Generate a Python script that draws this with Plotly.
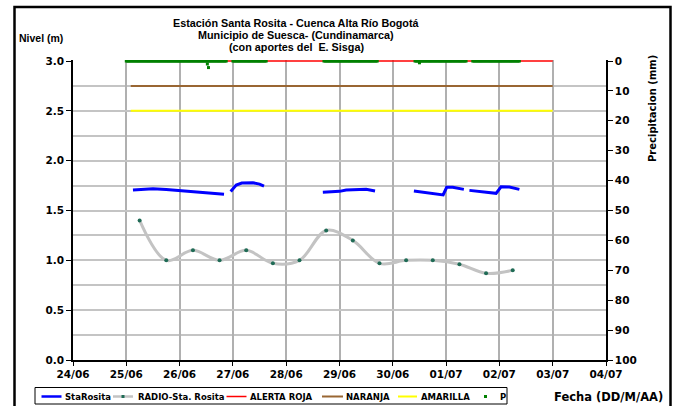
import pandas as pd
import plotly.graph_objects as go

# ---------------- data ----------------
sta_time = [
    "2011-06-25 03:00", "2011-06-25 12:00", "2011-06-25 18:00", "2011-06-26 00:00",
    "2011-06-26 06:00", "2011-06-26 12:00", "2011-06-26 16:30", "2011-06-26 20:00",
    None,
    "2011-06-26 23:00", "2011-06-27 01:30", "2011-06-27 04:00", "2011-06-27 09:00",
    "2011-06-27 12:00", "2011-06-27 14:00",
    None,
    "2011-06-28 16:30", "2011-06-29 00:00", "2011-06-29 03:00", "2011-06-29 12:00",
    "2011-06-29 16:00",
    None,
    "2011-06-30 09:30", "2011-06-30 15:00", "2011-06-30 22:40", "2011-07-01 00:15",
    "2011-07-01 03:00", "2011-07-01 08:00",
    None,
    "2011-07-01 10:30", "2011-07-01 16:30", "2011-07-01 22:30", "2011-07-02 00:45",
    "2011-07-02 04:30", "2011-07-02 09:00",
]
sta_level = [
    1.706, 1.718, 1.710, 1.700, 1.690, 1.680, 1.670, 1.662,
    None,
    1.690, 1.755, 1.775, 1.778, 1.765, 1.745,
    None,
    1.682, 1.692, 1.705, 1.712, 1.695,
    None,
    1.696, 1.680, 1.656, 1.733, 1.733, 1.712,
    None,
    1.702, 1.689, 1.672, 1.738, 1.736, 1.712,
]

radio_time = [
    "2011-06-25 06:00", "2011-06-25 18:00", "2011-06-26 06:00", "2011-06-26 18:00",
    "2011-06-27 06:00", "2011-06-27 18:00", "2011-06-28 06:00", "2011-06-28 18:00",
    "2011-06-29 06:00", "2011-06-29 18:00", "2011-06-30 06:00", "2011-06-30 18:00",
    "2011-07-01 06:00", "2011-07-01 18:00", "2011-07-02 06:00",
]
radio_level = [1.40, 1.00, 1.10, 1.00, 1.10, 0.97, 1.00, 1.30,
               1.20, 0.97, 1.00, 1.00, 0.96, 0.87, 0.90]

alert_time = ["2011-06-25 02:00", "2011-07-03 00:00"]
roja_level = [3.0, 3.0]
naranja_level = [2.75, 2.75]
amarilla_level = [2.5, 2.5]

# precipitation: readings of 0 mm inside these recording periods
p_seg_start = ["2011-06-25 00:00", "2011-06-27 00:00", "2011-06-28 17:00",
               "2011-06-30 10:00", "2011-07-01 12:00"]
p_seg_end = ["2011-06-26 21:00", "2011-06-27 15:00", "2011-06-29 17:00",
             "2011-07-01 09:00", "2011-07-02 09:00"]
p_event_time = ["2011-06-26 12:30", "2011-06-26 13:00", "2011-06-30 12:00"]
p_event_mm = [1.0, 2.2, 0.6]

x_range = ["2011-06-24", "2011-07-04"]
y_range = [0, 3.01]
y_ticks = [0.0, 0.5, 1.0, 1.5, 2.0, 2.5, 3.0]
p_ticks = [0, 10, 20, 30, 40, 50, 60, 70, 80, 90, 100]

# ---------------- build precipitation series ----------------
p_time, p_mm = [], []
for s, e in zip(p_seg_start, p_seg_end):
    for t in pd.date_range(s, e, freq="30min"):
        p_time.append(t)
        p_mm.append(0.0)
for t, v in zip(p_event_time, p_event_mm):
    p_time.append(pd.Timestamp(t))
    p_mm.append(v)

# ---------------- figure ----------------
W, H = 679, 406
L, R, T, B = 73, 73, 60, 46
PW, PH = W - L - R, H - T - B


def px(x):
    return (x - L) / PW


def py(y):
    return (H - B - y) / PH


BOLD = dict(family="DejaVu Sans", size=10.5, color="black", weight="bold")

fig = go.Figure()
fig.add_trace(go.Scatter(x=sta_time, y=sta_level, name="StaRosita", mode="lines",
                         line=dict(color="#0000ff", width=3), connectgaps=False))
fig.add_trace(go.Scatter(x=radio_time, y=radio_level, name="RADIO-Sta. Rosita",
                         mode="lines+markers",
                         line=dict(color="#c3c3c3", width=3, shape="spline", smoothing=1.0),
                         marker=dict(color="#1f6b55", size=4)))
fig.add_trace(go.Scatter(x=alert_time, y=roja_level, name="ALERTA ROJA", mode="lines",
                         line=dict(color="#ff0000", width=1.5)))
fig.add_trace(go.Scatter(x=alert_time, y=naranja_level, name="NARANJA", mode="lines",
                         line=dict(color="#996633", width=2)))
fig.add_trace(go.Scatter(x=alert_time, y=amarilla_level, name="AMARILLA", mode="lines",
                         line=dict(color="#ffff00", width=2)))
fig.add_trace(go.Scatter(x=p_time, y=p_mm, name="P", mode="markers", yaxis="y2",
                         marker=dict(color="#008000", size=3, symbol="square")))

fig.update_layout(
    width=W, height=H, autosize=False,
    margin=dict(l=L, r=R, t=T, b=B),
    paper_bgcolor="white", plot_bgcolor="white",
    showlegend=False,
    xaxis=dict(type="date", range=x_range, dtick=86400000, tick0="2011-06-24",
               tickformat="%d/%m", showgrid=True, gridcolor="#b0b0b0", gridwidth=1.5,
               showline=True, linecolor="black", linewidth=1.5,
               ticks="outside", ticklen=4, tickcolor="black", tickwidth=1.2,
               tickfont=BOLD, zeroline=False),
    yaxis=dict(range=y_range, tickvals=y_ticks, ticktext=[f"{v:.1f}" for v in y_ticks],
               showgrid=True, gridcolor="#c4c4c4", gridwidth=1.5,
               minor=dict(dtick=0.25, tick0=0, showgrid=True, gridcolor="#c4c4c4",
                          gridwidth=1.5, ticks=""),
               showline=True, linecolor="black", linewidth=1.5,
               ticks="outside", ticklen=5, tickcolor="black", tickwidth=1.2,
               tickfont=BOLD, zeroline=False),
    yaxis2=dict(range=[100, -0.335], tickvals=p_ticks, overlaying="y", side="right",
                showgrid=False, showline=True, linecolor="black", linewidth=1.5,
                ticks="outside", ticklen=5, tickcolor="black", tickwidth=1.2,
                tickfont=BOLD, zeroline=False),
)

shapes = []
ann = []
TITLE = dict(family="Liberation Sans", size=10.8, color="black", weight="bold")
for text, yc in [("Estación Santa Rosita - Cuenca Alta Río Bogotá", 23),
                 ("Municipio de Suesca- (Cundinamarca)", 35.5),
                 ("(con aportes del  E. Sisga)", 47.5)]:
    ann.append(dict(text=text, x=px(296), y=py(yc), xref="paper", yref="paper",
                    xanchor="center", yanchor="middle", showarrow=False, font=TITLE))
ann.append(dict(text="Nivel (m)", x=px(40.5), y=py(38), xref="paper", yref="paper",
                xanchor="center", yanchor="middle", showarrow=False,
                font=dict(family="Liberation Sans", size=10.5, color="black", weight="bold")))
ann.append(dict(text="Precipitacion (mm)", x=px(652), y=py(109), xref="paper", yref="paper",
                xanchor="center", yanchor="middle", showarrow=False, textangle=-90,
                font=dict(family="DejaVu Sans", size=10, color="black", weight="bold")))
ann.append(dict(text="Fecha (DD/M/AA)", x=px(608), y=py(397), xref="paper", yref="paper",
                xanchor="center", yanchor="middle", showarrow=False,
                font=dict(family="DejaVu Sans", size=11.5, color="black", weight="bold")))

# outer frame
shapes.append(dict(type="rect", xref="paper", yref="paper", x0=px(14.5), x1=px(670.5),
                   y0=py(420), y1=py(7), line=dict(color="black", width=2.5)))
# custom legend box
shapes.append(dict(type="rect", xref="paper", yref="paper", x0=px(35), x1=px(507),
                   y0=py(404), y1=py(387.5), line=dict(color="black", width=1),
                   fillcolor="white"))
LY = 396.5
LEG = dict(family="DejaVu Sans", size=8.5, color="black", weight="bold")
leg_items = [
    ("StaRosita", "#0000ff", 41.5, 61.5, 63, 2.5),
    ("RADIO-Sta. Rosita", "#c3c3c3", 113, 133, 136, 2.5),
    ("ALERTA ROJA", "#ff0000", 226.5, 246.5, 248, 1.5),
    ("NARANJA", "#996633", 322, 343, 344, 2),
    ("AMARILLA", "#ffff00", 398, 417, 419, 2),
]
for name, col, x0, x1, tx, lw in leg_items:
    shapes.append(dict(type="line", xref="paper", yref="paper", x0=px(x0), x1=px(x1),
                       y0=py(LY), y1=py(LY), line=dict(color=col, width=lw)))
    ann.append(dict(text=name, x=px(tx), y=py(LY), xref="paper", yref="paper",
                    xanchor="left", yanchor="middle", showarrow=False, font=LEG))
# marker samples
shapes.append(dict(type="rect", xref="paper", yref="paper", x0=px(121.5), x1=px(124.5),
                   y0=py(LY + 1.5), y1=py(LY - 1.5), line=dict(width=0), fillcolor="#1f6b55"))
shapes.append(dict(type="rect", xref="paper", yref="paper", x0=px(484), x1=px(487),
                   y0=py(LY + 1.5), y1=py(LY - 1.5), line=dict(width=0), fillcolor="#008000"))
ann.append(dict(text="P", x=px(498), y=py(LY), xref="paper", yref="paper",
                xanchor="left", yanchor="middle", showarrow=False, font=LEG))

fig.update_layout(annotations=ann, shapes=shapes)
fig.write_html("out.html", config={"displayModeBar": False},
               post_script="document.body.style.margin='0';document.body.style.overflow='hidden';")
